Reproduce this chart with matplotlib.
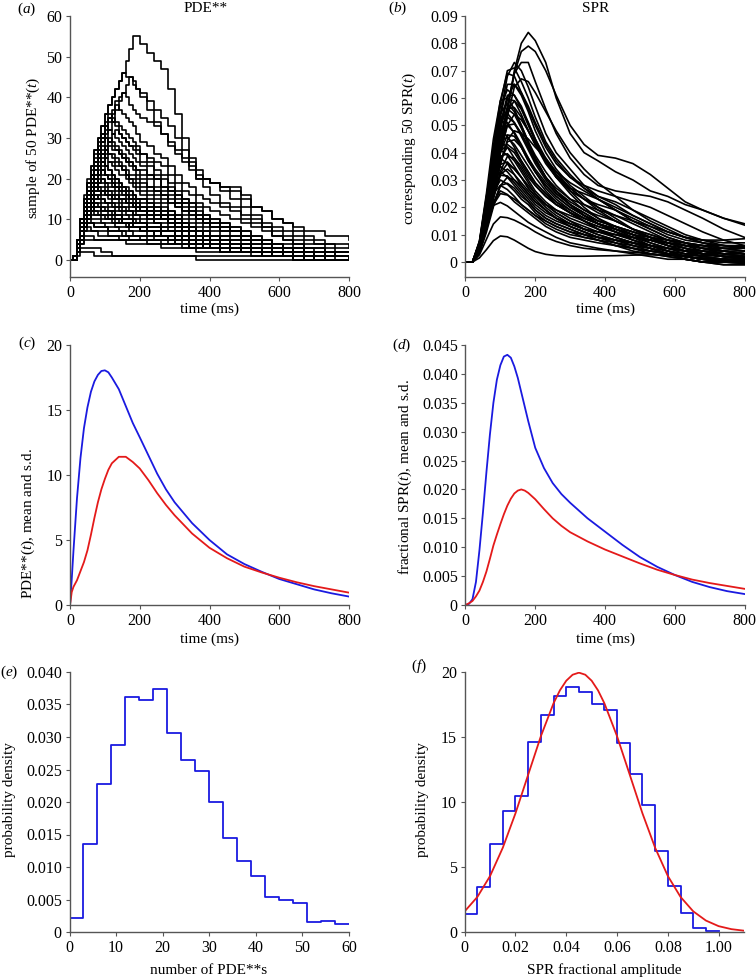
import numpy as np
import matplotlib
matplotlib.use("Agg")
import matplotlib.pyplot as plt

plt.rcParams['font.family'] = ['Liberation Serif', 'DejaVu Serif']
plt.rcParams['mathtext.fontset'] = 'custom'
plt.rcParams['mathtext.rm'] = 'Liberation Serif'
plt.rcParams['mathtext.it'] = 'Liberation Serif:italic'
plt.rcParams['font.size'] = 11

# (a) 50 sampled PDE** counts, read on a time grid (ms)
t_pde = [0, 10, 20, 30, 40, 50, 60, 70, 80, 90, 100, 110, 120, 130, 140, 150, 160, 170,
         180, 190, 200, 220, 240, 260, 280, 300, 320, 340, 360, 380, 400, 430, 460, 490,
         520, 550, 580, 610, 640, 670, 700, 730, 760, 800]
pde_samples = [
    [0, 0, 5, 10, 15, 19, 23, 27, 30, 33, 36, 38, 40, 42, 44, 46, 49, 52, 55, 55, 53,
     51, 49, 47, 42, 36, 30, 24, 20, 20, 19, 18, 18, 16, 13, 12, 10, 9, 8, 7, 7, 6, 6, 5],
    [0, 0, 5, 10, 15, 19, 23, 27, 30, 33, 36, 38, 40, 42, 44, 46, 45, 45, 43, 42, 41,
     39, 37, 35, 33, 30, 27, 25, 22, 20, 19, 17, 15, 13, 11, 9, 8, 7, 6, 5, 4, 4, 3, 3],
    [0, 0, 2, 6, 10, 13, 17, 21, 24, 27, 30, 32, 34, 37, 39, 41, 43, 45, 44, 42, 40,
     37, 34, 31, 28, 26, 24, 22, 21, 20, 19, 18, 17, 15, 13, 12, 10, 9, 7, 6, 5, 4, 4, 3],
    [0, 0, 3, 7, 10, 14, 18, 22, 26, 29, 31, 34, 36, 39, 40, 41, 40, 38, 37, 36, 35,
     34, 33, 31, 29, 27, 25, 23, 20, 18, 16, 14, 13, 11, 10, 8, 7, 6, 5, 4, 4, 3, 2, 2],
    [0, 0, 3, 7, 11, 15, 19, 23, 27, 30, 33, 35, 37, 38, 37, 36, 35, 34, 33, 31, 29,
     28, 26, 25, 23, 21, 19, 18, 16, 15, 14, 13, 12, 10, 9, 8, 6, 5, 4, 3, 3, 2, 2, 2],
    [0, 0, 4, 8, 12, 16, 20, 24, 28, 31, 34, 36, 35, 34, 33, 32, 31, 30, 29, 28, 26,
     25, 24, 23, 21, 19, 17, 16, 14, 13, 12, 11, 10, 9, 8, 7, 6, 5, 4, 3, 3, 2, 1, 1],
    [0, 0, 3, 7, 11, 15, 18, 22, 26, 29, 32, 35, 34, 33, 31, 30, 29, 28, 27, 26, 24,
     23, 21, 20, 18, 16, 14, 13, 11, 10, 9, 8, 7, 6, 5, 4, 4, 3, 3, 2, 2, 1, 1, 1],
    [0, 1, 4, 8, 12, 16, 20, 24, 27, 30, 33, 32, 31, 30, 29, 28, 27, 26, 25, 24, 23,
     21, 20, 18, 17, 15, 14, 12, 11, 10, 9, 8, 7, 6, 5, 4, 3, 3, 2, 2, 2, 1, 1, 1],
    [0, 0, 2, 6, 9, 13, 16, 19, 22, 25, 27, 29, 31, 32, 31, 30, 29, 28, 28, 27, 26,
     24, 22, 21, 19, 17, 15, 14, 12, 11, 10, 9, 8, 7, 6, 5, 4, 3, 3, 2, 1, 1, 1, 0],
    [0, 1, 4, 8, 12, 16, 20, 24, 27, 31, 30, 29, 28, 27, 26, 25, 24, 23, 22, 21, 20,
     18, 17, 16, 14, 13, 11, 10, 9, 8, 7, 6, 6, 5, 4, 3, 3, 2, 2, 1, 1, 1, 1, 1],
    [0, 0, 3, 6, 10, 14, 17, 20, 23, 26, 28, 30, 29, 28, 27, 26, 25, 24, 23, 22, 21,
     20, 18, 17, 16, 14, 13, 12, 10, 9, 8, 7, 7, 6, 5, 4, 4, 3, 2, 2, 1, 1, 1, 0],
    [0, 1, 4, 8, 13, 17, 21, 25, 29, 28, 27, 26, 25, 24, 23, 22, 21, 20, 19, 18, 17,
     16, 15, 14, 12, 11, 10, 9, 8, 7, 6, 5, 5, 4, 3, 3, 2, 2, 1, 1, 1, 0, 0, 0],
    [0, 0, 2, 5, 9, 12, 15, 18, 21, 24, 26, 28, 27, 27, 26, 25, 24, 24, 23, 22, 22,
     21, 20, 18, 17, 16, 15, 14, 13, 11, 10, 9, 8, 7, 6, 5, 4, 4, 3, 3, 2, 2, 2, 2],
    [0, 1, 3, 7, 11, 15, 19, 23, 27, 26, 25, 24, 23, 22, 21, 21, 20, 19, 18, 17, 16,
     15, 14, 13, 12, 11, 9, 8, 7, 6, 6, 5, 4, 4, 3, 2, 2, 1, 1, 1, 0, 0, 0, 0],
    [0, 1, 4, 8, 12, 16, 21, 26, 25, 24, 23, 22, 21, 20, 19, 18, 18, 17, 16, 15, 15,
     14, 13, 12, 11, 10, 9, 8, 7, 6, 5, 5, 4, 3, 3, 2, 2, 1, 1, 1, 1, 1, 1, 1],
    [0, 0, 2, 5, 9, 12, 15, 18, 21, 23, 25, 26, 26, 25, 24, 23, 22, 21, 21, 20, 19,
     18, 17, 16, 15, 14, 12, 11, 10, 9, 8, 8, 7, 6, 5, 5, 4, 3, 3, 2, 2, 1, 1, 1],
    [0, 0, 3, 7, 11, 15, 19, 22, 25, 24, 23, 22, 21, 20, 19, 18, 17, 17, 16, 15, 15,
     14, 13, 12, 11, 10, 9, 8, 7, 6, 5, 5, 4, 4, 3, 2, 2, 1, 1, 1, 0, 0, 0, 0],
    [0, 1, 4, 9, 13, 17, 21, 24, 23, 22, 21, 21, 20, 19, 18, 18, 17, 16, 15, 15, 14,
     13, 12, 11, 10, 9, 8, 7, 6, 6, 5, 4, 4, 3, 3, 2, 2, 2, 1, 1, 1, 0, 0, 0],
    [0, 0, 2, 5, 8, 11, 14, 17, 19, 21, 23, 24, 24, 23, 23, 22, 21, 20, 20, 19, 18,
     17, 16, 15, 14, 13, 12, 11, 10, 9, 8, 7, 6, 5, 5, 4, 3, 3, 2, 2, 1, 1, 1, 1],
    [0, 0, 3, 6, 10, 14, 17, 20, 23, 22, 21, 20, 19, 18, 18, 17, 16, 15, 15, 14, 13,
     12, 11, 10, 9, 8, 7, 6, 6, 5, 4, 4, 3, 3, 2, 2, 1, 1, 1, 0, 0, 0, 0, 0],
    [0, 1, 4, 8, 12, 17, 22, 21, 20, 20, 19, 18, 18, 17, 16, 16, 15, 14, 14, 13, 13,
     12, 11, 10, 10, 9, 8, 7, 6, 6, 5, 5, 4, 4, 3, 3, 2, 2, 2, 1, 1, 1, 1, 1],
    [0, 0, 2, 6, 9, 13, 16, 19, 21, 22, 21, 20, 19, 18, 17, 17, 16, 15, 14, 13, 13,
     12, 11, 10, 9, 8, 7, 6, 5, 5, 4, 3, 3, 2, 2, 1, 1, 1, 0, 0, 0, 0, 0, 0],
    [0, 1, 4, 8, 12, 16, 21, 20, 19, 19, 18, 17, 17, 16, 15, 15, 14, 14, 13, 12, 12,
     11, 10, 10, 9, 8, 7, 7, 6, 5, 5, 4, 4, 3, 3, 2, 2, 1, 1, 1, 0, 0, 0, 0],
    [0, 1, 4, 9, 14, 20, 19, 18, 18, 17, 16, 16, 15, 15, 14, 13, 13, 12, 12, 11, 11,
     10, 9, 8, 8, 7, 6, 6, 5, 5, 4, 4, 3, 3, 2, 2, 2, 1, 1, 1, 1, 1, 1, 1],
    [0, 0, 2, 5, 8, 11, 14, 17, 19, 20, 19, 19, 18, 18, 17, 16, 16, 15, 15, 14, 13,
     13, 12, 11, 10, 9, 8, 8, 7, 6, 5, 5, 4, 3, 3, 2, 2, 1, 1, 1, 0, 0, 0, 0],
    [0, 1, 5, 9, 14, 19, 18, 18, 17, 16, 16, 15, 14, 14, 13, 13, 12, 12, 11, 11, 10,
     9, 9, 8, 7, 7, 6, 5, 5, 4, 4, 3, 3, 3, 2, 2, 1, 1, 1, 0, 0, 0, 0, 0],
    [0, 0, 3, 7, 11, 15, 18, 19, 18, 18, 17, 17, 16, 16, 15, 15, 14, 14, 13, 13, 12,
     11, 11, 10, 9, 9, 8, 7, 6, 6, 5, 5, 4, 4, 3, 3, 2, 2, 2, 1, 1, 1, 1, 1],
    [0, 1, 4, 8, 13, 18, 17, 16, 16, 15, 14, 14, 13, 13, 12, 12, 11, 11, 10, 10, 9,
     8, 8, 7, 7, 6, 5, 5, 4, 4, 3, 3, 2, 2, 2, 1, 1, 1, 0, 0, 0, 0, 0, 0],
    [0, 0, 2, 5, 9, 12, 15, 18, 17, 17, 16, 16, 15, 15, 15, 14, 14, 13, 13, 12, 12,
     11, 10, 10, 9, 8, 7, 7, 6, 5, 5, 4, 4, 3, 3, 2, 2, 1, 1, 1, 0, 0, 0, 0],
    [0, 1, 5, 9, 13, 17, 16, 15, 15, 14, 14, 13, 13, 12, 12, 11, 11, 10, 10, 9, 9,
     8, 8, 7, 7, 6, 5, 5, 4, 4, 3, 3, 3, 2, 2, 1, 1, 1, 1, 0, 0, 0, 0, 0],
    [0, 0, 2, 4, 7, 10, 12, 15, 16, 17, 17, 16, 16, 15, 15, 15, 14, 14, 13, 13, 12,
     12, 11, 11, 10, 9, 9, 8, 7, 7, 6, 6, 5, 5, 4, 4, 3, 3, 3, 2, 2, 2, 1, 1],
    [0, 1, 5, 10, 16, 15, 15, 14, 14, 13, 13, 12, 12, 11, 11, 10, 10, 10, 9, 9, 9,
     8, 8, 7, 7, 6, 6, 5, 5, 4, 4, 3, 3, 3, 2, 2, 2, 1, 1, 1, 1, 0, 0, 0],
    [0, 0, 2, 5, 8, 11, 13, 16, 15, 15, 14, 14, 14, 13, 13, 12, 12, 12, 11, 11, 11,
     10, 9, 9, 8, 8, 7, 6, 6, 5, 5, 4, 4, 3, 3, 2, 2, 1, 1, 0, 0, 0, 0, 0],
    [0, 0, 3, 7, 11, 15, 14, 14, 13, 13, 12, 12, 12, 11, 11, 10, 10, 10, 9, 9, 9,
     8, 8, 7, 7, 6, 6, 5, 5, 4, 4, 4, 3, 3, 3, 2, 2, 2, 1, 1, 1, 0, 0, 0],
    [0, 1, 5, 10, 15, 14, 14, 13, 13, 12, 12, 11, 11, 10, 10, 9, 9, 9, 8, 8, 8,
     7, 7, 6, 6, 5, 5, 4, 4, 3, 3, 3, 2, 2, 2, 1, 1, 1, 0, 0, 0, 0, 0, 0],
    [0, 0, 3, 7, 11, 14, 13, 13, 13, 12, 12, 12, 11, 11, 11, 10, 10, 10, 9, 9, 9,
     8, 8, 7, 7, 6, 6, 5, 5, 4, 4, 3, 3, 3, 2, 2, 2, 1, 1, 1, 1, 1, 0, 0],
    [0, 1, 5, 10, 14, 13, 13, 12, 12, 11, 11, 11, 10, 10, 10, 9, 9, 9, 8, 8, 8,
     7, 7, 6, 6, 5, 5, 4, 4, 4, 3, 3, 3, 2, 2, 2, 1, 1, 1, 1, 0, 0, 0, 0],
    [0, 1, 4, 9, 13, 12, 12, 12, 11, 11, 11, 10, 10, 10, 9, 9, 9, 8, 8, 8, 7,
     7, 6, 6, 6, 5, 5, 4, 4, 3, 3, 3, 2, 2, 2, 1, 1, 1, 1, 0, 0, 0, 0, 0],
    [0, 0, 4, 8, 12, 12, 11, 11, 11, 10, 10, 10, 9, 9, 9, 9, 8, 8, 8, 8, 7,
     7, 6, 6, 5, 5, 5, 4, 4, 3, 3, 3, 2, 2, 2, 1, 1, 1, 0, 0, 0, 0, 0, 0],
    [0, 0, 2, 5, 8, 10, 12, 11, 11, 11, 10, 10, 10, 9, 9, 9, 9, 8, 8, 8, 7,
     7, 7, 6, 6, 5, 5, 5, 4, 4, 4, 3, 3, 3, 2, 2, 2, 2, 1, 1, 1, 1, 1, 1],
    [0, 1, 4, 8, 11, 11, 10, 10, 10, 9, 9, 9, 9, 8, 8, 8, 8, 7, 7, 7, 7,
     6, 6, 6, 5, 5, 4, 4, 4, 3, 3, 3, 2, 2, 2, 1, 1, 1, 1, 0, 0, 0, 0, 0],
    [0, 0, 3, 7, 10, 10, 9, 9, 9, 9, 8, 8, 8, 8, 7, 7, 7, 7, 6, 6, 6,
     6, 5, 5, 5, 4, 4, 4, 3, 3, 3, 2, 2, 2, 2, 1, 1, 1, 1, 1, 1, 0, 0, 0],
    [0, 1, 5, 10, 9, 9, 9, 8, 8, 8, 8, 7, 7, 7, 7, 6, 6, 6, 6, 6, 5,
     5, 5, 5, 4, 4, 4, 3, 3, 3, 3, 2, 2, 2, 1, 1, 1, 1, 1, 0, 0, 0, 0, 0],
    [0, 0, 3, 6, 9, 9, 9, 8, 8, 8, 8, 7, 7, 7, 7, 7, 6, 6, 6, 6, 6,
     5, 5, 5, 5, 4, 4, 4, 4, 3, 3, 3, 3, 2, 2, 2, 2, 1, 1, 1, 1, 1, 1, 1],
    [0, 1, 4, 8, 8, 8, 7, 7, 7, 7, 7, 6, 6, 6, 6, 6, 6, 5, 5, 5, 5,
     5, 5, 4, 4, 4, 4, 3, 3, 3, 3, 2, 2, 2, 2, 2, 1, 1, 1, 1, 1, 0, 0, 0],
    [0, 0, 2, 5, 7, 7, 7, 7, 6, 6, 6, 6, 6, 6, 5, 5, 5, 5, 5, 5, 5,
     4, 4, 4, 4, 4, 3, 3, 3, 3, 3, 2, 2, 2, 2, 2, 2, 1, 1, 1, 1, 1, 1, 1],
    [0, 1, 3, 6, 6, 6, 6, 5, 5, 5, 5, 5, 5, 5, 5, 5, 4, 4, 4, 4, 4,
     4, 4, 3, 3, 3, 3, 3, 2, 2, 2, 2, 2, 2, 2, 1, 1, 1, 1, 1, 1, 1, 1, 0],
    [0, 0, 2, 4, 5, 5, 5, 5, 5, 5, 5, 5, 5, 5, 5, 5, 5, 5, 5, 5, 5,
     5, 5, 5, 5, 5, 5, 5, 5, 5, 4, 4, 4, 3, 3, 3, 3, 2, 2, 2, 1, 1, 1, 1],
    [0, 1, 3, 3, 3, 3, 3, 3, 3, 2, 2, 2, 1, 1, 1, 1, 1, 1, 1, 1, 1,
     1, 1, 1, 1, 1, 1, 1, 1, 1, 1, 1, 1, 1, 1, 1, 1, 1, 1, 1, 1, 1, 1, 1],
    [0, 0, 1, 2, 2, 2, 2, 1, 1, 1, 1, 1, 1, 1, 1, 1, 1, 1, 1, 1, 1,
     1, 1, 1, 1, 1, 1, 1, 0, 0, 0, 0, 0, 0, 0, 0, 0, 0, 0, 0, 0, 0, 0, 0],
]

# (b) corresponding 50 SPR curves, in units of 0.001
t_spr = [0, 20, 40, 60, 80, 100, 120, 140, 160, 180, 200, 230, 260, 300, 340, 380,
         430, 480, 530, 580, 630, 680, 740, 800]
spr_samples_milli = [
    [0, 0, 3.6, 13, 28, 42, 55, 70, 80, 84, 81, 73, 60, 47, 40, 37, 33, 30, 26, 24, 21, 19, 16, 13.5],
    [0, 0, 3.6, 13, 28, 42, 56, 69, 77, 79, 77, 70, 61, 50, 43, 39, 38, 36, 32, 27, 22, 19, 16, 14],
    [0, 0, 3.7, 14, 30, 43, 57, 69, 73, 73, 66, 56, 47, 38, 32, 28, 26, 25, 24, 22, 19, 16, 12, 9],
    [0, 0, 5.4, 19, 36, 54, 68, 73, 70, 64, 57, 47, 40, 34, 28, 24, 21, 17, 14, 11, 9, 7, 6, 5],
    [0, 0, 6, 22, 41, 58, 70, 71, 66, 60, 53, 44, 38, 32, 27, 23, 19, 15, 12, 9, 7, 5, 4, 3],
    [0, 0, 6.6, 23, 42, 59, 69, 68, 62, 56, 50, 42, 36, 31, 28, 26, 24, 22, 20, 17, 14, 11, 8, 6],
    [0, 0, 3.7, 13, 28, 40, 53, 64, 67, 66, 62, 55, 48, 40, 34, 29, 24, 19, 15, 12, 9, 7, 5, 4],
    [0, 0, 5.7, 20, 38, 53, 65, 65, 61, 55, 48, 40, 34, 28, 24, 20, 16, 12, 9, 7, 5, 3, 2, 1],
    [0, 0, 4.8, 17, 32, 48, 60, 65, 62, 57, 51, 43, 37, 31, 27, 24, 22, 19, 16, 13, 10, 8, 6, 5],
    [0, 0, 6.5, 22, 41, 57, 63, 61, 56, 50, 44, 37, 32, 27, 23, 19, 15, 12, 9, 6, 4, 3, 2, 1.5],
    [0, 0, 5.4, 19, 35, 50, 61, 61, 57, 51, 45, 37, 31, 26, 23, 21, 19, 16, 13, 10, 8, 7, 6, 5.5],
    [0, 0, 7.7, 25, 45, 59, 60, 56, 50, 44, 39, 33, 28, 23, 19, 16, 13, 10, 7, 5, 3, 2, 1, 0.5],
    [0, 0, 5.7, 20, 36, 51, 59.5, 59, 54, 48, 43, 36, 31, 27, 25, 23, 20, 17, 14, 11, 9, 8, 8, 8.5],
    [0, 0, 4.4, 15, 29.5, 44, 55, 59, 56, 51, 45, 38, 32, 26, 21, 18, 15, 12, 10, 8, 6, 4, 2, 1],
    [0, 0, 6.7, 22, 40, 54.5, 58, 55, 50, 44, 38, 31, 26, 21, 17, 14, 11, 8, 6, 4, 2, 1, 0, -0.5],
    [0, 0, 5, 17, 32.5, 46, 56, 56.5, 53, 48, 43, 37, 33, 29, 26, 23, 19, 15, 12, 9, 7, 6, 5, 4],
    [0, 0, 5.8, 19.6, 36, 50, 56, 54, 49, 43, 38, 31, 26, 22, 19, 17, 15, 12, 10, 8, 7, 5, 3, 2],
    [0, 0, 6.9, 22.5, 40.7, 53, 54.5, 51, 46, 41, 36, 30, 25, 21, 18, 15, 13, 11, 9, 7, 5, 4, 3, 3],
    [0, 0, 4, 14, 27, 40, 50, 54, 52, 48, 43, 37, 31, 25, 20, 16, 12, 9, 6, 4, 3, 2, 1, 0],
    [0, 0, 5.5, 18.5, 34.5, 47.7, 53, 51, 47, 42, 37, 31, 27, 23, 21, 19, 17, 14, 11, 8, 6, 5, 5, 5.5],
    [0, 0, 7.3, 23.5, 40.5, 51.5, 51, 47, 42, 37, 33, 28, 24, 20, 17, 14, 11, 8, 6, 4, 2, 1, 0.5, 0],
    [0, 0, 4.4, 15.3, 29, 41, 50, 50.5, 47, 42, 37, 31, 26, 21, 17, 14, 12, 10, 9, 8, 7, 6, 4, 3],
    [0, 0, 5.8, 19, 34.5, 47, 50, 47.5, 43, 38, 33, 27, 23, 19, 16, 14, 12, 10, 8, 6, 4, 2, 1, 1],
    [0, 0, 7.5, 24, 40, 48, 46, 42, 37, 33, 29, 25, 22, 19, 16, 14, 12, 10, 8, 6, 4, 3, 2, 2],
    [0, 0, 4.5, 15.5, 28, 40, 46.5, 46, 42, 37, 33, 28, 24, 20, 17, 15, 13, 11, 9, 7, 5, 3, 2, 1],
    [0, 0, 5.8, 19, 34, 44.4, 45.5, 43, 39, 35, 31, 26, 22, 18, 15, 12, 9, 7, 5, 3, 1, 0, -1, -1],
    [0, 0, 3.9, 13.5, 25.6, 36.5, 44, 44.7, 42, 38, 34, 29, 25, 21, 18, 15, 13, 11, 9, 8, 7, 6, 6, 6],
    [0, 0, 6.9, 22, 37, 44, 42, 38, 34, 30, 26, 22, 19, 16, 14, 12, 10, 8, 6, 4, 2, 1, 0, 0],
    [0, 0, 5, 16.3, 29.7, 40.4, 43, 41, 37, 33, 29, 25, 21, 18, 16, 14, 12, 10, 8, 7, 6, 5, 4, 3],
    [0, 0, 4.4, 14.7, 27.3, 37.8, 42, 40, 36, 32, 28, 24, 21, 18, 15, 12, 9, 7, 5, 3, 2, 1, 1, 0],
    [0, 0, 6.4, 20.5, 34.4, 41, 39, 35, 31, 27, 24, 21, 19, 17, 15, 13, 11, 9, 8, 7, 6, 6, 5, 5],
    [0, 0, 5, 16.4, 29.6, 38.6, 39.6, 37, 33, 29, 25, 21, 18, 15, 13, 11, 9, 7, 5, 3, 1, 0, 0, 0],
    [0, 0, 3.7, 12.9, 23.4, 33.2, 38.6, 38, 35, 31, 28, 24, 21, 18, 15, 13, 11, 9, 7, 5, 4, 3, 2, 2],
    [0, 0, 6.8, 21, 34, 38, 36, 32, 28, 25, 22, 19, 16, 14, 12, 10, 8, 6, 5, 3, 2, 1, 0, -0.5],
    [0, 0, 4.7, 15.2, 27.4, 35.7, 36.6, 34, 31, 27, 24, 20, 17, 14, 12, 11, 10, 9, 8, 7, 6, 5, 4, 3],
    [0, 0, 3.7, 12.6, 23.4, 32.4, 36, 34, 31, 28, 25, 21, 18, 15, 12, 10, 8, 6, 4, 3, 2, 1, 1, 1],
    [0, 0, 5.5, 17.5, 29.4, 35, 33, 30, 27, 24, 21, 18, 16, 14, 12, 11, 10, 9, 8, 6, 5, 4, 3, 3],
    [0, 0, 3.9, 12.9, 23.5, 32, 34, 32, 29, 26, 23, 19, 16, 13, 11, 9, 7, 5, 3, 2, 1, 0, -1, -1],
    [0, 0, 5.9, 18.2, 29.7, 33, 31, 28, 25, 22, 19, 16, 14, 12, 10, 9, 8, 7, 6, 5, 4, 3, 3, 2],
    [0, 0, 4.5, 14.4, 25, 31.7, 31.5, 29, 26, 23, 20, 17, 15, 13, 11, 9, 7, 5, 4, 3, 2, 1, 1, 0],
    [0, 0, 3.2, 10.9, 20.2, 27.9, 31, 30, 28, 25, 22, 19, 16, 13, 11, 9, 8, 7, 6, 5, 4, 4, 4, 4],
    [0, 0, 4.7, 15, 25.2, 30, 28.5, 26, 23, 21, 18, 15, 13, 11, 9, 8, 6, 5, 4, 3, 2, 1, 0, 0],
    [0, 0, 3.7, 11.9, 21.5, 28, 28.8, 27, 24, 22, 19, 16, 14, 12, 10, 8, 6, 4, 3, 2, 1, 0, 0, -0.5],
    [0, 0, 5, 15.4, 25.2, 28, 26.5, 24, 21, 19, 17, 14, 12, 10, 9, 8, 7, 6, 5, 4, 3, 3, 2, 2],
    [0, 0, 4, 13, 21.8, 26, 24.7, 22, 20, 18, 16, 13, 11, 9, 8, 7, 6, 5, 4, 3, 2, 1, 1, 0.5],
    [0, 0, 3.9, 12.5, 21, 25, 24.5, 23, 21, 19, 17, 15, 13, 11, 10, 9, 8, 7, 6, 5, 4, 3, 3, 2],
    [0, 0, 4.4, 13.2, 20.7, 21.8, 20.5, 18.5, 16.5, 14.5, 13, 11, 9, 7, 6, 5, 4, 3, 2, 1, 1, 0, 0, 0],
    [0, 0, 2.6, 8.3, 13.9, 16.5, 16.2, 15.3, 14, 12.6, 11, 9, 7.5, 6, 5, 4.5, 4, 3.5, 3, 2.5, 2, 1.5, 1, 1],
    [0, 0, 1.5, 4.5, 7.8, 9.5, 9.2, 8, 6.5, 5, 3.8, 2.8, 2.3, 2.1, 2.1, 2.2, 2.3, 2.5, 2.6, 2.6, 2.5, 2.3, 2.1, 2],
    [0, 0, 3.5, 12.5, 24, 35.5, 44.6, 48, 47, 45, 42, 38, 33, 27, 23, 20, 17, 15, 13, 11, 9, 8, 7, 7],
]

# (c) PDE** mean (blue) and s.d. (red)
t_c = [0, 5, 10, 20, 30, 40, 50, 60, 70, 80, 90, 100, 110, 120, 140, 160, 180, 200,
       225, 250, 275, 300, 350, 400, 450, 500, 550, 600, 650, 700, 750, 800]
pde_mean = [0, 2.0, 4.2, 8.2, 11.3, 13.6, 15.2, 16.4, 17.2, 17.7, 18.0, 18.05, 17.9, 17.5,
            16.6, 15.3, 14.0, 12.9, 11.5, 10.1, 8.9, 7.9, 6.3, 5.0, 3.9, 3.15, 2.55, 2.0,
            1.6, 1.2, 0.9, 0.65]
pde_sd = [0, 1.0, 1.4, 1.9, 2.6, 3.3, 4.2, 5.4, 6.7, 7.9, 8.9, 9.7, 10.4, 10.9,
          11.4, 11.4, 11.0, 10.5, 9.6, 8.6, 7.7, 6.9, 5.5, 4.4, 3.6, 2.95, 2.5, 2.1,
          1.75, 1.45, 1.2, 0.95]

# (d) SPR mean (blue) and s.d. (red)
t_d = [0, 10, 20, 30, 40, 50, 60, 70, 80, 90, 100, 110, 120, 130, 140, 150, 160, 170,
       180, 200, 225, 250, 275, 300, 350, 400, 450, 500, 550, 600, 650, 700, 750, 800]
spr_mean = [0, 0.0002, 0.001, 0.004, 0.0095, 0.016, 0.023, 0.0295, 0.035, 0.039, 0.0415,
            0.043, 0.0433, 0.0428, 0.0413, 0.0393, 0.0368, 0.0343, 0.0318, 0.0272, 0.0237,
            0.0211, 0.0192, 0.0177, 0.0150, 0.0127, 0.0104, 0.0083, 0.0066, 0.0052,
            0.0040, 0.0031, 0.0024, 0.0019]
spr_sd = [0, 0.0003, 0.0007, 0.0015, 0.0025, 0.004, 0.0058, 0.008, 0.0103, 0.0122, 0.014,
          0.0157, 0.0172, 0.0184, 0.0193, 0.0198, 0.0200, 0.0198, 0.0194, 0.0183, 0.0166,
          0.0150, 0.0137, 0.0126, 0.0110, 0.0096, 0.0084, 0.0072, 0.0061, 0.0052,
          0.0044, 0.0038, 0.0033, 0.0028]

# (e) histogram of number of PDE**s
pde_edges = [0, 3, 6, 9, 12, 15, 18, 21, 24, 27, 30, 33, 36, 39, 42, 45, 48, 51, 54, 57, 60]
pde_density = [0.0021, 0.0135, 0.0228, 0.0288, 0.0361, 0.0357, 0.0374, 0.0306, 0.0264,
               0.0248, 0.0200, 0.0144, 0.0110, 0.0086, 0.0054, 0.0049, 0.0045, 0.0016,
               0.0017, 0.0013]

# (f) histogram of SPR fractional amplitude + fitted normal curve
spr_edges = [0, 0.005, 0.01, 0.015, 0.02, 0.025, 0.03, 0.035, 0.04, 0.045, 0.05, 0.055,
             0.06, 0.065, 0.07, 0.075, 0.08, 0.085, 0.09, 0.095, 0.1]
spr_density = [1.41, 3.44, 6.74, 9.3, 10.44, 14.6, 16.67, 18.13, 18.85, 18.46, 17.56,
               17.1, 14.54, 12.13, 9.79, 6.23, 3.54, 1.46, 0.33, 0.05]
fit_x = [0, 0.005, 0.01, 0.015, 0.02, 0.025, 0.03, 0.035, 0.0375, 0.04, 0.0425, 0.045,
         0.0475, 0.05, 0.0525, 0.055, 0.06, 0.065, 0.07, 0.075, 0.08, 0.085, 0.09, 0.095,
         0.1, 0.105, 0.11]
fit_y = [1.59, 2.70, 4.31, 6.48, 9.13, 12.10, 15.06, 17.60, 18.59, 19.33, 19.79, 19.95,
         19.79, 19.33, 18.59, 17.60, 15.06, 12.10, 9.13, 6.48, 4.31, 2.70, 1.59, 0.88,
         0.45, 0.22, 0.10]

BLUE = '#1a1ae0'
RED = '#e41a1a'
W, H = 756, 977

for row in pde_samples:
    assert len(row) == len(t_pde)
for row in spr_samples_milli:
    assert len(row) == len(t_spr)


def rect(l, r, top, bot):
    return [l / W, 1 - bot / H, (r - l) / W, (bot - top) / H]


def style(ax):
    for s in ['top', 'right']:
        ax.spines[s].set_visible(False)
    for s in ['left', 'bottom']:
        ax.spines[s].set_color('#555555')
        ax.spines[s].set_linewidth(1.0)
    ax.tick_params(direction='out', length=3, width=0.8, color='#555555',
                   labelsize=11.5, pad=2.5)


def ftext(x, y, s, **kw):
    fig.text(x / W, 1 - y / H, s, ha='center', va='center', **kw)


def step_hist(ax, edges, vals, color):
    x = np.r_[edges[0], edges]
    y = np.r_[0, vals, vals[-1]]
    ax.plot(x, y, drawstyle='steps-post', color=color, lw=1.3)


fig = plt.figure(figsize=(W / 100, H / 100), dpi=100)

# (a)
ax = fig.add_axes(rect(70, 349, 16, 277))
for row in pde_samples:
    ax.plot(t_pde, row, drawstyle='steps-post', color='black', lw=1.2)
ax.set_xlim(0, 800)
ax.set_ylim(-4.2, 60)
ax.set_xticks([0, 200, 400, 600, 800])
ax.set_yticks([0, 10, 20, 30, 40, 50, 60])
style(ax)

# (b)
ax = fig.add_axes(rect(465.5, 744.5, 16, 277))
for row in spr_samples_milli:
    ax.plot(t_spr, np.array(row) * 1e-3, color='black', lw=1.2)
ax.set_xlim(0, 800)
ax.set_ylim(-0.0055, 0.09)
ax.set_xticks([0, 200, 400, 600, 800])
yt = [0, 0.01, 0.02, 0.03, 0.04, 0.05, 0.06, 0.07, 0.08, 0.09]
ax.set_yticks(yt, ['0'] + ['%.2f' % v for v in yt[1:]])
style(ax)

# (c)
ax = fig.add_axes(rect(70, 349, 345, 605))
ax.plot(t_c, pde_mean, color=BLUE, lw=1.3)
ax.plot(t_c, pde_sd, color=RED, lw=1.3)
ax.set_xlim(0, 800)
ax.set_ylim(0, 20)
ax.set_xticks([0, 200, 400, 600, 800])
ax.set_yticks([0, 5, 10, 15, 20])
style(ax)

# (d)
ax = fig.add_axes(rect(465.5, 744.5, 345, 605))
ax.plot(t_d, spr_mean, color=BLUE, lw=1.3)
ax.plot(t_d, spr_sd, color=RED, lw=1.3)
ax.set_xlim(0, 800)
ax.set_ylim(0, 0.045)
ax.set_xticks([0, 200, 400, 600, 800])
yt = [0, 0.005, 0.01, 0.015, 0.02, 0.025, 0.03, 0.035, 0.04, 0.045]
ax.set_yticks(yt, ['0'] + ['%.3f' % v for v in yt[1:]])
style(ax)

# (e)
ax = fig.add_axes(rect(69.5, 349, 672, 932))
step_hist(ax, pde_edges, pde_density, BLUE)
ax.set_xlim(0, 60)
ax.set_ylim(0, 0.04)
ax.set_xticks([0, 10, 20, 30, 40, 50, 60])
yt = [0, 0.005, 0.01, 0.015, 0.02, 0.025, 0.03, 0.035, 0.04]
ax.set_yticks(yt, ['0'] + ['%.3f' % v for v in yt[1:]])
style(ax)

# (f)
ax = fig.add_axes(rect(464.7, 744, 672, 932))
step_hist(ax, spr_edges, spr_density, BLUE)
ax.plot(fit_x, fit_y, color=RED, lw=1.3)
ax.set_xlim(0, 0.11)
ax.set_ylim(0, 20)
ax.set_xticks([0, 0.02, 0.04, 0.06, 0.08, 0.10],
              ['0', '0.02', '0.04', '0.06', '0.08', '1.00'])
ax.set_yticks([0, 5, 10, 15, 20])
style(ax)

# titles, axis labels and panel letters
ftext(206, 8, 'PDE**')
ftext(596, 8, 'SPR')
ftext(27, 9, '($a$)')
ftext(398, 8, '($b$)')
ftext(27, 343, '($c$)')
ftext(402, 345, '($d$)')
ftext(9, 672, '($e$)')
ftext(419, 666, '($f$)')

ftext(33, 148, 'sample of 50 PDE**($t$)', rotation=90)
ftext(409, 148, 'corresponding 50 SPR($t$)', rotation=90)
ftext(28, 524, 'PDE**($t$), mean and s.d.', rotation=90)
ftext(405, 477, 'fractional SPR($t$), mean and s.d.', rotation=90)
ftext(10, 800, 'probability density', rotation=90)
ftext(422, 800, 'probability density', rotation=90)

ftext(210, 309, 'time (ms)')
ftext(605, 309, 'time (ms)')
ftext(210, 639, 'time (ms)')
ftext(605, 639, 'time (ms)')
ftext(209, 970, 'number of PDE**s')
ftext(604, 970, 'SPR fractional amplitude')

fig.savefig('out.png', dpi=100)
